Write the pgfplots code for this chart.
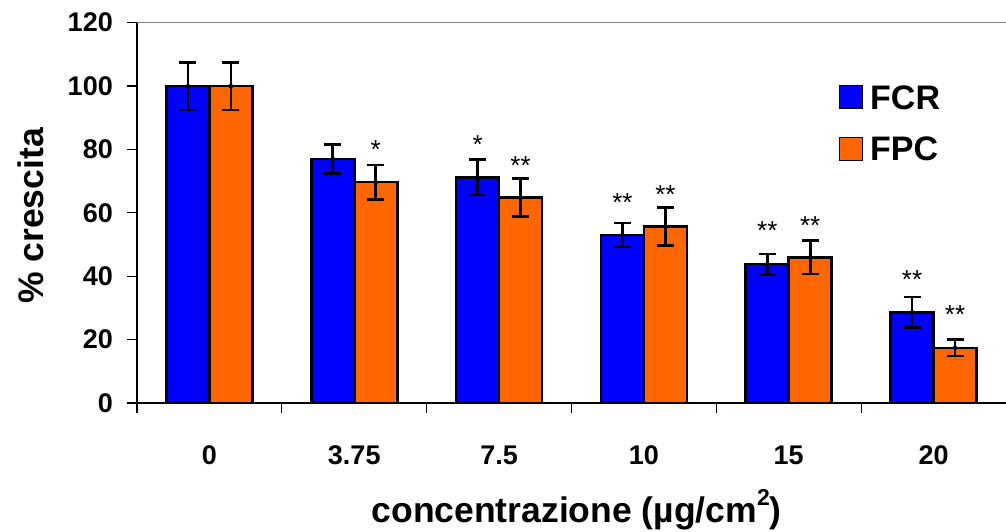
\documentclass[border=0pt]{standalone}
\usepackage{pgfplots}
\usepackage{pgfplotstable}
\usepackage{fontspec}
\setmainfont{Liberation Sans}
\pgfplotsset{compat=1.18}

\definecolor{fcrblue}{RGB}{0,0,255}
\definecolor{fpcorange}{RGB}{255,102,0}

% x = category index, xs = bar centre, y = mean, e = error
\pgfplotstableread{
x xs y e
0 -0.1483 100 7.5
1 0.8517 77.0 4.6
2 1.8517 71.2 5.6
3 2.8517 53.0 3.8
4 3.8517 43.8 3.2
5 4.8517 28.6 4.8
}\fcr
\pgfplotstableread{
x xs y e
0 0.1483 100 7.5
1 1.1483 69.7 5.4
2 2.1483 64.8 6.0
3 3.1483 55.7 6.0
4 4.1483 46.0 5.3
5 5.1483 17.4 2.6
}\fpc
% significance marks, placed over each bar
\pgfplotstableread{
x y lab
1.8517 81.8 *
2.8517 63.5 **
3.8517 54.8 **
4.8517 39.5 **
}\starsfcr
\pgfplotstableread{
x y lab
1.1483 80.5 *
2.1483 75.3 **
3.1483 66.3 **
4.1483 56.5 **
5.1483 28.2 **
}\starsfpc

\begin{document}
\begin{tikzpicture}
\begin{axis}[
    scale only axis,
    width=869pt, height=380.3pt,
    anchor=south west, at={(0,0)},
    xmin=-0.5, xmax=5.5,
    ymin=0, ymax=120,
    ytick={0,20,...,120},
    xtick={0,...,5},
    xticklabels={0,3.75,7.5,10,15,20},
    minor xtick={-0.5,0.5,...,4.5},
    axis lines*=left,
    axis line style={line width=1.3pt, black},
    tick align=outside,
    major tick length=10pt,
    minor tick length=10pt,
    every major x tick/.append style={draw=none},
    every minor x tick/.append style={draw=black, line width=1.3pt},
    every major y tick/.append style={line width=1.3pt, black},
    /pgf/number format/assume math mode=true,
    tick label style={font=\fontsize{27}{30}\selectfont\bfseries},
    xticklabel style={anchor=base, yshift=-51.5pt},
    yticklabel style={anchor=east, inner sep=0pt, xshift=-14pt},
    ylabel={\% crescita},
    xlabel={concentrazione (µg/cm\raisebox{0.5em}{\fontsize{23}{23}\selectfont 2})},
    label style={font=\fontsize{35.5}{38}\selectfont\bfseries},
    ylabel style={at={(axis description cs:-0.122,0.492)}, anchor=center},
    xlabel style={at={(axis description cs:0.506,-0.3155)}, anchor=base},
    legend style={at={(rel axis cs:0.804,0.842)}, anchor=north west,
        draw=none, fill=none, font=\fontsize{34}{38}\selectfont\bfseries,
        nodes={inner sep=0pt, text height=24pt, text depth=0pt},
        row sep=27.5pt, column sep=7pt},
    legend cell align=left,
    legend image code/.code={\draw[#1, draw=black, line width=1.3pt] (0pt,-11.5pt) rectangle (23pt,11.5pt);},
    clip=false,
]
\addplot[ybar, bar width=0.2966, bar shift=0, fill=fcrblue, draw=black, line width=2.6pt]
    table[x=xs, y=y] {\fcr};
\addlegendentry{FCR}
\addplot[ybar, bar width=0.2966, bar shift=0, fill=fpcorange, draw=black, line width=2.6pt]
    table[x=xs, y=y] {\fpc};
\addlegendentry{FPC}
% error bars
\addplot[only marks, mark=none, forget plot,
    error bars/.cd, y dir=both, y explicit,
    error bar style={line width=2.6pt, black},
    error mark options={rotate=90, mark size=8.5pt, line width=2.6pt, black}]
    table[x=xs, y=y, y error=e] {\fcr};
\addplot[only marks, mark=none, forget plot,
    error bars/.cd, y dir=both, y explicit,
    error bar style={line width=2.6pt, black},
    error mark options={rotate=90, mark size=8.5pt, line width=2.6pt, black}]
    table[x=xs, y=y, y error=e] {\fpc};
% stars
\addplot[only marks, mark=none, forget plot, point meta=explicit symbolic,
    nodes near coords, nodes near coords style={anchor=base, yshift=-1.02em,
    font=\fontsize{26}{26}\selectfont, inner sep=0pt}]
    table[x=x, y=y, meta=lab] {\starsfcr};
\addplot[only marks, mark=none, forget plot, point meta=explicit symbolic,
    nodes near coords, nodes near coords style={anchor=base, yshift=-1.02em,
    font=\fontsize{26}{26}\selectfont, inner sep=0pt}]
    table[x=x, y=y, meta=lab] {\starsfpc};
\draw[gray, line width=1.5pt] (rel axis cs:0,1) -- (rel axis cs:1,1);
\end{axis}
\pgfresetboundingbox
\path[use as bounding box] (-137pt,-129pt) rectangle (869pt,403pt);
\end{tikzpicture}
\end{document}
